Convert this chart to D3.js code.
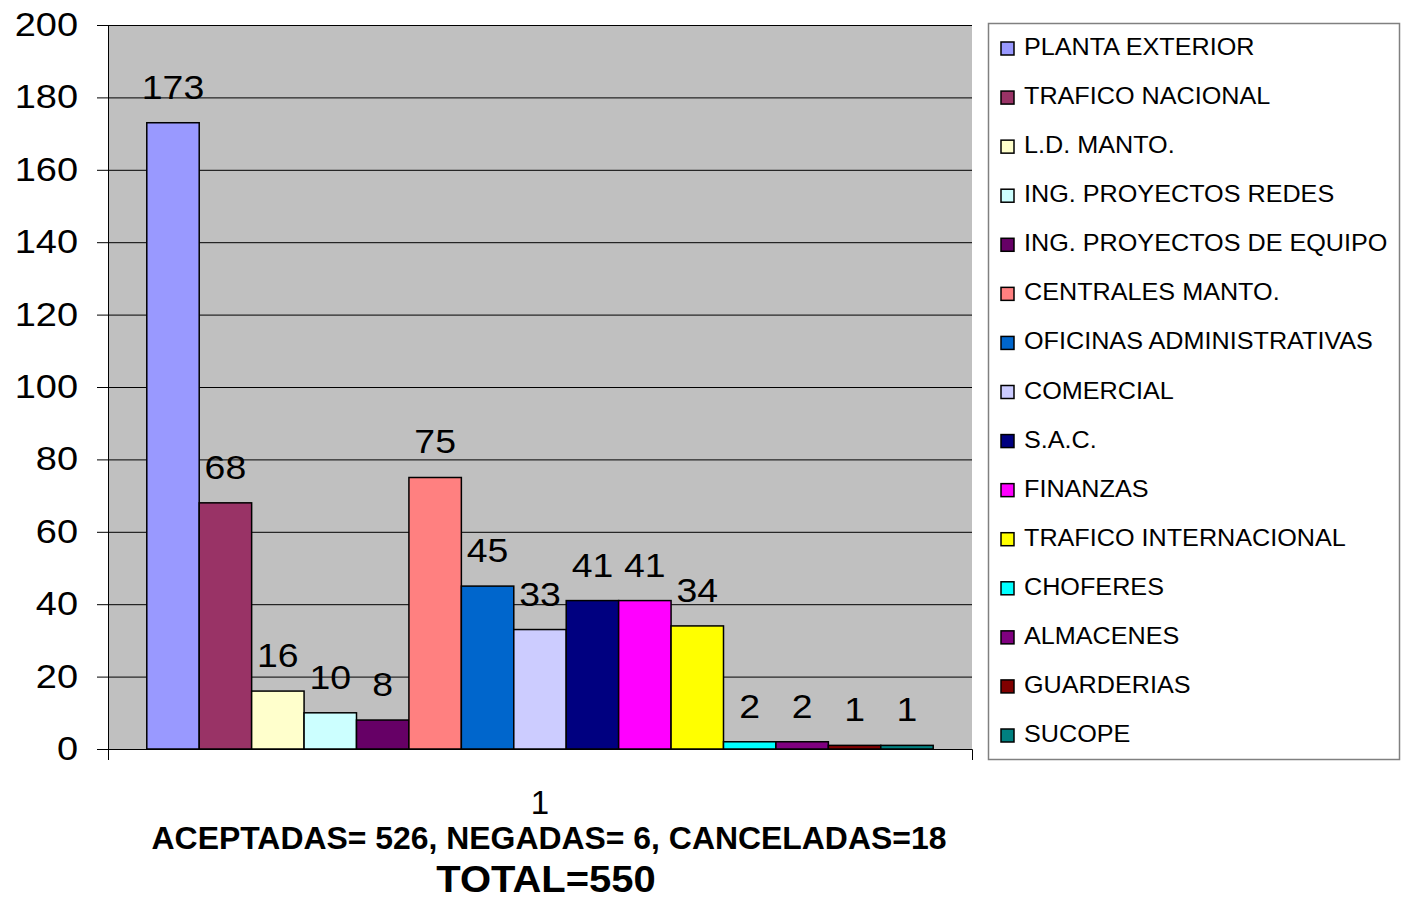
<!DOCTYPE html>
<html>
<head>
<meta charset="utf-8">
<script src="https://cdn.jsdelivr.net/npm/d3@7"></script>
<style>
  body { margin: 0; background: #fff; }
  svg text { font-family: "Liberation Sans", Arial, sans-serif; fill: #000; }
</style>
</head>
<body>
<div class="chart"></div>
<script>
// data
const categories = [
  "PLANTA EXTERIOR", "TRAFICO NACIONAL", "L.D. MANTO.", "ING. PROYECTOS REDES",
  "ING. PROYECTOS DE EQUIPO", "CENTRALES MANTO.", "OFICINAS ADMINISTRATIVAS",
  "COMERCIAL", "S.A.C.", "FINANZAS", "TRAFICO INTERNACIONAL", "CHOFERES",
  "ALMACENES", "GUARDERIAS", "SUCOPE"
];
const values = [173, 68, 16, 10, 8, 75, 45, 33, 41, 41, 34, 2, 2, 1, 1];
const colors = [
  "#9999FF", "#993366", "#FFFFCC", "#CCFFFF", "#660066", "#FF8080", "#0066CC",
  "#CCCCFF", "#000080", "#FF00FF", "#FFFF00", "#00FFFF", "#800080", "#800000", "#008080"
];
const groups = ["1"];
const yTicks = [0, 20, 40, 60, 80, 100, 120, 140, 160, 180, 200];
const subtitle = "ACEPTADAS= 526, NEGADAS= 6, CANCELADAS=18";
const total = "TOTAL=550";

let W = 1401, H = 900;
let plot = { left: 108, top: 25, right: 972, bottom: 749 };

// widen text a bit around its x anchor, the old chart font runs wide
function stretch(sel, sx) {
  sel.attr("transform", function () {
    let x0 = +this.getAttribute("x") || 0;
    return "translate(" + x0 * (1 - sx) + ",0) scale(" + sx + ",1)";
  });
}

let svg = d3.select(".chart").append("svg")
  .attr("width", W)
  .attr("height", H);

let y = d3.scaleLinear().domain([0, 200]).range([plot.bottom, plot.top]);
let x = d3.scaleBand().domain(groups).range([plot.left, plot.right]).padding(0.047);
let xs = d3.scaleBand().domain(categories).range([0, x.bandwidth()]);
let color = d3.scaleOrdinal().domain(categories).range(colors);

// gray plot area
svg.append("rect")
  .attr("x", plot.left)
  .attr("y", plot.top)
  .attr("width", plot.right - plot.left)
  .attr("height", plot.bottom - plot.top)
  .attr("fill", "#C0C0C0");

// gridlines
svg.append("g")
  .attr("transform", "translate(" + plot.left + ",0)")
  .call(d3.axisLeft(y).tickValues(yTicks).tickSize(-(plot.right - plot.left)).tickFormat(""))
  .call(g => g.select(".domain").remove())
  .selectAll("line").attr("stroke", "#000");

// bars
let data = categories.map((c, i) => ({ c, v: values[i] }));
svg.append("g")
  .selectAll("rect")
  .data(data)
  .join("rect")
  .attr("x", d => x("1") + xs(d.c))
  .attr("y", d => y(d.v))
  .attr("width", xs.bandwidth())
  .attr("height", d => y(0) - y(d.v))
  .attr("fill", d => color(d.c))
  .attr("stroke", "#000")
  .attr("stroke-width", 1.5);

// value labels
svg.append("g")
  .selectAll("text")
  .data(data)
  .join("text")
  .attr("x", d => x("1") + xs(d.c) + xs.bandwidth() / 2)
  .attr("y", d => y(d.v) - 24)
  .attr("text-anchor", "middle")
  .style("font-size", "34px")
  .text(d => d.v)
  .call(stretch, 1.1);

// y axis
svg.append("g")
  .attr("transform", "translate(" + plot.left + ",0)")
  .call(d3.axisLeft(y).tickValues(yTicks).tickSizeInner(11).tickSizeOuter(0).tickPadding(19))
  .call(g => g.selectAll("line, path").attr("stroke", "#000"))
  .selectAll("text")
  .style("font-size", "33px")
  .attr("fill", "#000")
  .call(stretch, 1.15);

// x axis
svg.append("g")
  .attr("transform", "translate(0," + plot.bottom + ")")
  .call(d3.axisBottom(x).tickSizeInner(0).tickSizeOuter(11).tickPadding(42))
  .call(g => g.selectAll("line, path").attr("stroke", "#000"))
  .selectAll("text")
  .style("font-size", "33px")
  .attr("fill", "#000");

// titles under the axis
svg.append("text")
  .attr("x", 549)
  .attr("y", 849)
  .attr("text-anchor", "middle")
  .style("font-size", "31px")
  .style("font-weight", "bold")
  .text(subtitle)
  .call(stretch, 1.03);

svg.append("text")
  .attr("x", 546)
  .attr("y", 892)
  .attr("text-anchor", "middle")
  .style("font-size", "37px")
  .style("font-weight", "bold")
  .text(total)
  .call(stretch, 1.08);

// legend
let legend = svg.append("g");
legend.append("rect")
  .attr("x", 988.5)
  .attr("y", 23.5)
  .attr("width", 411)
  .attr("height", 736)
  .attr("fill", "#fff")
  .attr("stroke", "#808080")
  .attr("stroke-width", 1.5);

let ly = d3.scalePoint().domain(categories).range([55, 742]);
let item = legend.selectAll("g.item")
  .data(categories)
  .join("g")
  .attr("class", "item")
  .attr("transform", d => "translate(0," + ly(d) + ")");
item.append("rect")
  .attr("x", 1001)
  .attr("y", -13)
  .attr("width", 13)
  .attr("height", 13)
  .attr("fill", d => color(d))
  .attr("stroke", "#000")
  .attr("stroke-width", 1.5);
item.append("text")
  .attr("x", 1024)
  .attr("y", 0)
  .style("font-size", "24px")
  .text(d => d)
  .call(stretch, 1.05);
</script>
</body>
</html>
